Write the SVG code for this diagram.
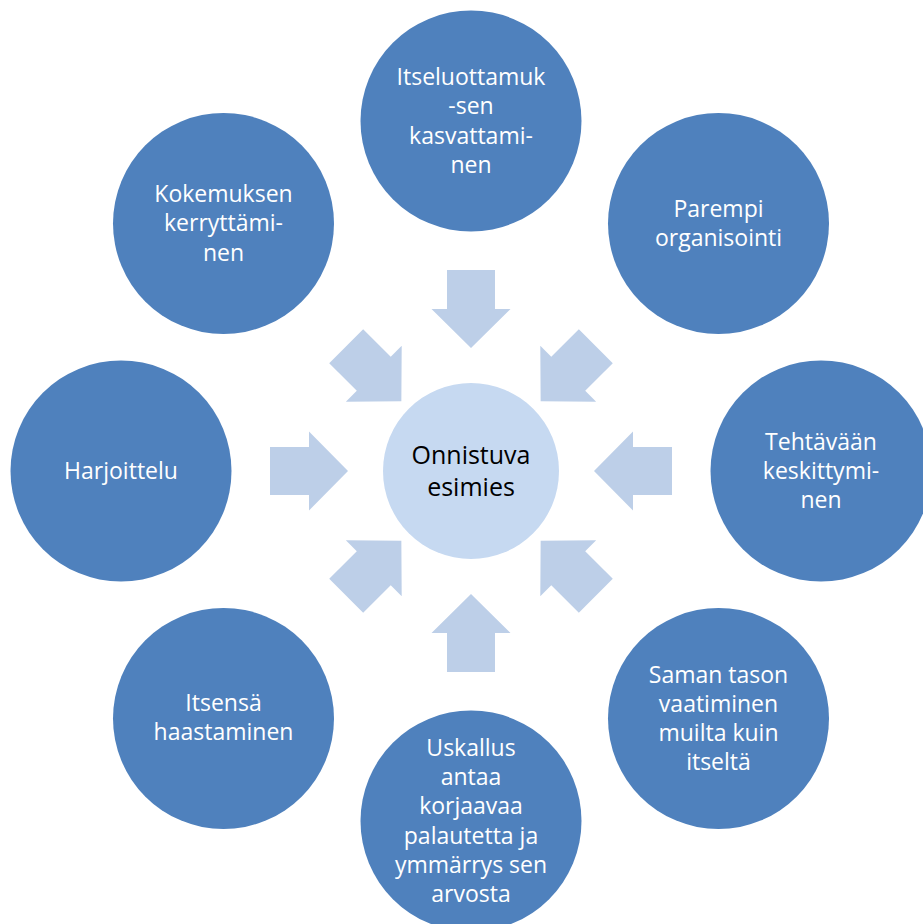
<svg xmlns="http://www.w3.org/2000/svg" xmlns:xlink="http://www.w3.org/1999/xlink" width="923" height="924" viewBox="0 0 923 924">
  <style>
    .outer { fill: #4F81BD; }
    .hub { fill: #C6D9F1; }
    .arrow { fill: #BDCFE8; }
    .label { font-family: "Open Sans", "Noto Sans", "Liberation Sans", sans-serif; font-size: 23px; fill: #FFFFFF; text-anchor: middle; }
    .hub-label { font-family: "Open Sans", "Noto Sans", "Liberation Sans", sans-serif; font-size: 25px; fill: #000000; text-anchor: middle; }
  </style>
  <defs>
    <!-- block arrows pointing right, tip relative to the hub centre -->
    <polygon id="arrow-straight" points="-123,0 -162,-39.5 -162,-24 -201,-24 -201,24 -162,24 -162,39.5"/>
    <polygon id="arrow-diagonal" points="-98.5,0 -137.5,-39.5 -137.5,-24 -176.5,-24 -176.5,24 -137.5,24 -137.5,39.5"/>
  </defs>
  <rect width="923" height="924" fill="#FFFFFF"/>

  <g id="connectors" class="arrow" transform="translate(471,471)">
    <use xlink:href="#arrow-straight" transform="rotate(0)"/>
    <use xlink:href="#arrow-diagonal" transform="rotate(45)"/>
    <use xlink:href="#arrow-straight" transform="rotate(90)"/>
    <use xlink:href="#arrow-diagonal" transform="rotate(135)"/>
    <use xlink:href="#arrow-straight" transform="rotate(180)"/>
    <use xlink:href="#arrow-diagonal" transform="rotate(225)"/>
    <use xlink:href="#arrow-straight" transform="rotate(270)"/>
    <use xlink:href="#arrow-diagonal" transform="rotate(315)"/>
  </g>

  <g id="hub">
    <circle class="hub" cx="471" cy="471" r="88"/>
    <text class="hub-label" x="471" y="463.5">Onnistuva<tspan x="471" dy="32">esimies</tspan></text>
  </g>

  <g id="node-itseluottamus">
    <circle class="outer" cx="471" cy="121" r="110.5"/>
    <text class="label" x="471" y="85">Itseluottamuk<tspan x="471" dy="29.3">-sen</tspan><tspan x="471" dy="29.3">kasvattami-</tspan><tspan x="471" dy="29.3">nen</tspan></text>
  </g>

  <g id="node-organisointi">
    <circle class="outer" cx="718.5" cy="223.5" r="110.5"/>
    <text class="label" x="718.5" y="217">Parempi<tspan x="718.5" dy="29.3">organisointi</tspan></text>
  </g>

  <g id="node-keskittyminen">
    <circle class="outer" cx="821" cy="471" r="110.5"/>
    <text class="label" x="821" y="449.7">Tehtävään<tspan x="821" dy="29.3">keskittymi-</tspan><tspan x="821" dy="29.3">nen</tspan></text>
  </g>

  <g id="node-vaatiminen">
    <circle class="outer" cx="718.5" cy="718.5" r="110.5"/>
    <text class="label" x="718.5" y="682.5">Saman tason<tspan x="718.5" dy="29.3">vaatiminen</tspan><tspan x="718.5" dy="29.3">muilta kuin</tspan><tspan x="718.5" dy="29.3">itseltä</tspan></text>
  </g>

  <g id="node-uskallus">
    <circle class="outer" cx="471" cy="821" r="110.5"/>
    <text class="label" x="471" y="755.8">Uskallus<tspan x="471" dy="29.3">antaa</tspan><tspan x="471" dy="29.3">korjaavaa</tspan><tspan x="471" dy="29.3">palautetta ja</tspan><tspan x="471" dy="29.3">ymmärrys sen</tspan><tspan x="471" dy="29.3">arvosta</tspan></text>
  </g>

  <g id="node-haastaminen">
    <circle class="outer" cx="223.5" cy="718.5" r="110.5"/>
    <text class="label" x="223.5" y="711">Itsensä<tspan x="223.5" dy="29.3">haastaminen</tspan></text>
  </g>

  <g id="node-harjoittelu">
    <circle class="outer" cx="121" cy="471" r="110.5"/>
    <text class="label" x="121" y="479">Harjoittelu</text>
  </g>

  <g id="node-kokemus">
    <circle class="outer" cx="223.5" cy="223.5" r="110.5"/>
    <text class="label" x="223.5" y="202">Kokemuksen<tspan x="223.5" dy="29.3">kerryttämi-</tspan><tspan x="223.5" dy="29.3">nen</tspan></text>
  </g>
</svg>
